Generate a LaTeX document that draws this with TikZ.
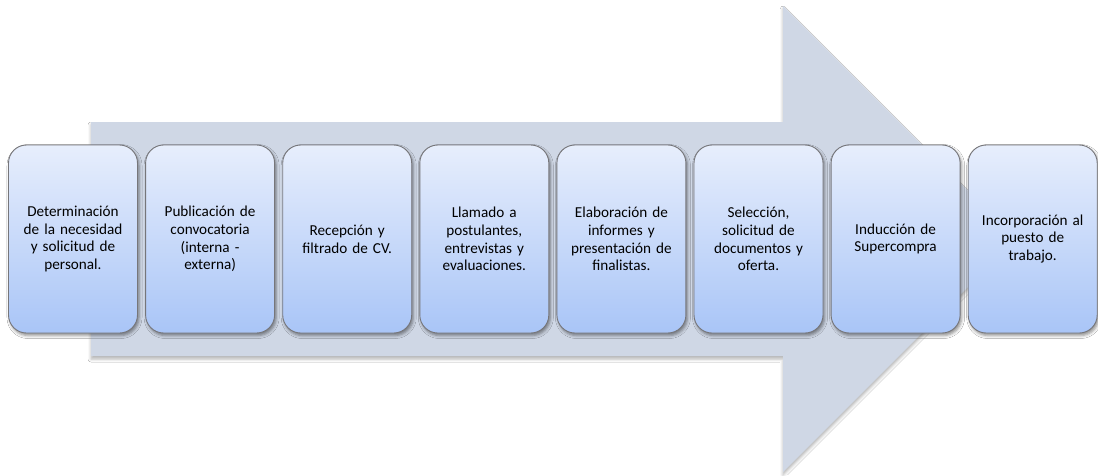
\documentclass[tikz,border=0pt]{standalone}
\usepackage{fontspec}
\setmainfont{Carlito}
\usetikzlibrary{shadows.blur}
\definecolor{arrowfill}{RGB}{207,215,229}
\definecolor{boxtop}{RGB}{231,238,252}
\definecolor{boxbot}{RGB}{169,197,247}
\definecolor{boxline}{RGB}{118,118,122}
\tikzset{
  stepbox/.style={draw=boxline, line width=0.9pt, rounded corners=18pt,
    top color=boxtop, bottom color=boxbot, minimum width=129pt, minimum height=188pt,
    text width=126pt, align=center, inner sep=0pt,
    font=\fontsize{15.2pt}{17.8pt}\selectfont,
    blur shadow={shadow xshift=1.5pt, shadow yshift=-2.5pt, shadow blur radius=3pt, shadow opacity=45}},
  bigarrow/.style={fill=arrowfill, draw=none,
    blur shadow={shadow xshift=0pt, shadow yshift=-3pt, shadow blur radius=3pt, shadow opacity=30}}
}
\begin{document}
\begin{tikzpicture}[x=1pt,y=-1pt]
\useasboundingbox (0,0) rectangle (1098,475);
\fill[white] (0,0) rectangle (1098,475);
\path[bigarrow] (91,122) -- (783,122) -- (783,6) -- (1016,239) -- (783,472) -- (783,356) -- (91,356) -- cycle;
\node[stepbox] (s1) at (8.5+64.5,239) {Determinación\\de la necesidad\\y solicitud de\\personal.};
\node[stepbox] (s2) at (8.5+137.1+64.5,239) {Publicación de\\convocatoria\\(interna -\\externa)};
\node[stepbox] (s3) at (8.5+2*137.1+64.5,239) {Recepción y\\filtrado de CV.};
\node[stepbox] (s4) at (8.5+3*137.1+64.5,239) {Llamado a\\postulantes,\\entrevistas y\\evaluaciones.};
\node[stepbox] (s5) at (8.5+4*137.1+64.5,239) {Elaboración de\\informes y\\presentación de\\finalistas.};
\node[stepbox] (s6) at (8.5+5*137.1+64.5,239) {Selección,\\solicitud de\\documentos y\\oferta.};
\node[stepbox] (s7) at (8.5+6*137.1+64.5,239) {Inducción de\\Supercompra};
\node[stepbox] (s8) at (8.5+7*137.1+64.5,239) {Incorporación al\\puesto de\\trabajo.};
\end{tikzpicture}
\end{document}
